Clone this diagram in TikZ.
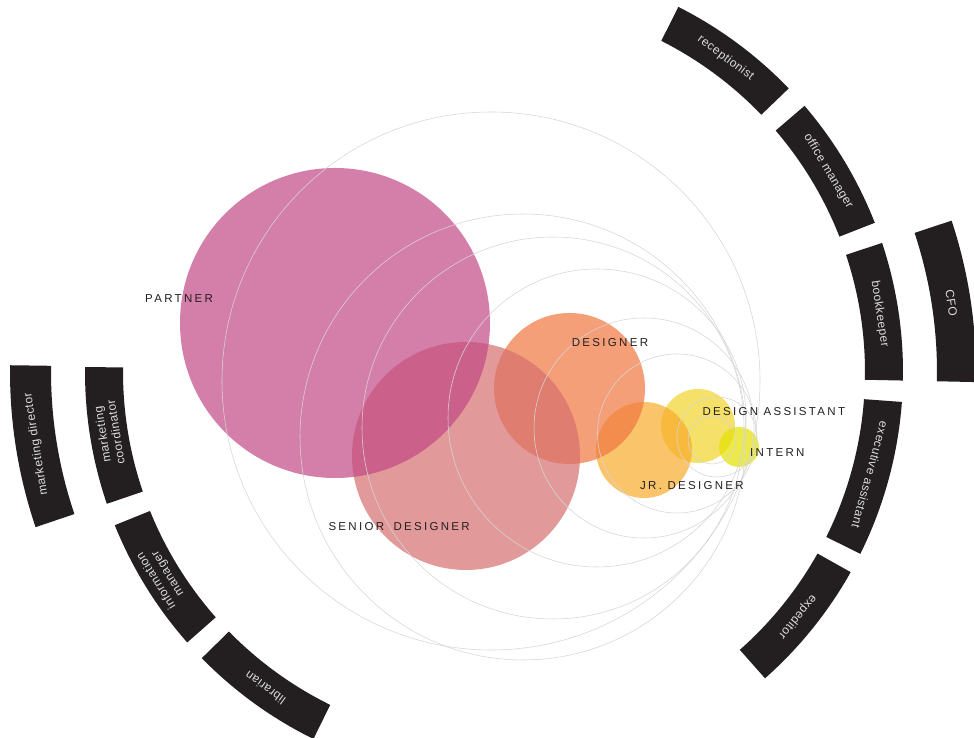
\documentclass[tikz,border=0pt]{standalone}
\usepackage{fontspec}
\setmainfont{Liberation Sans}
\newfontfamily\rolefont[LetterSpace=20]{Liberation Sans}
\newfontfamily\segfont[LetterSpace=4]{Liberation Sans}
\usetikzlibrary{calc}
\definecolor{ink}{HTML}{231F20}
\definecolor{seglight}{HTML}{DCDCDC}
\definecolor{orbitgrey}{HTML}{D6D6D6}
\definecolor{cpartner}{HTML}{C24886}
\definecolor{csenior}{HTML}{D76F6F}
\definecolor{cdesigner}{HTML}{F17741}
\definecolor{cjunior}{HTML}{F9AB2D}
\definecolor{cassist}{HTML}{F2D32A}
\definecolor{cintern}{HTML}{E5E000}
\tikzset{
  role/.style={font=\rolefont\fontsize{11.5}{13}\selectfont, text=ink, anchor=base west, inner sep=0pt},
  seglabel/.style={font=\segfont\fontsize{12}{13.5}\selectfont, text=seglight, align=center, inner sep=0pt},
  segment/.style={fill=ink},
  orbit/.style={draw=orbitgrey, line width=0.55pt},
  bubble/.style={fill opacity=0.7},
}
\newcommand\ringseg[4]{%
  \fill[segment] ($(O)+(#1:#3)$) arc[start angle=#1,end angle=#2,radius=#3]
    -- ($(O)+(#2:#4)$) arc[start angle=#2,end angle=#1,radius=#4] -- cycle;}
\begin{document}
\begin{tikzpicture}[x=1pt,y=1pt]
\useasboundingbox (0,0) rectangle (974,738);
\fill[white] (0,0) rectangle (974,738);
\coordinate (O) at (494,366);

% coloured bubbles (bottom to top)
\fill[bubble, cassist] (698,312) circle[radius=37];
\fill[bubble, cintern] (739,291) circle[radius=20];
\fill[bubble, cjunior] (644,288) circle[radius=48];
\fill[bubble, cdesigner] (569.5,349.5) circle[radius=75.5];
\fill[bubble, csenior] (466,282) circle[radius=114];
\fill[bubble, cpartner] (335,415) circle[radius=155];

% thin orbits
\draw[orbit] (491,357) circle[radius=269];
\draw[orbit] (523,301) circle[radius=223];
\draw[orbit] (553,310) circle[radius=191];
\draw[orbit] (597,320) circle[radius=149];
\draw[orbit] (644,310) circle[radius=110];
\draw[orbit] (677,304.5) circle[radius=79.5];
\draw[orbit] (717,301) circle[radius=40];
\draw[orbit] (712,298) circle[radius=24];

% role labels
\node[role] (partner) at (145,435) {PARTNER};
\node[role] (designer) at (571.7,391.3) {DESIGNER};
\node[role] (assistant) at (702.3,322.3) {DESIGN ASSISTANT};
\node[role] (intern) at (750,281.3) {INTERN};
\node[role] (junior) at (640,248.7) {JR. DESIGNER};
\node[role] (senior) at (328.3,207) {SENIOR\hspace{4pt} DESIGNER};

% right ring segments
\ringseg{43.9}{63.2}{371}{409}
\ringseg{21.4}{40.6}{371}{409}
\ringseg{-1.2}{18.4}{371}{409}
\ringseg{-26.4}{-4.2}{371}{409}
\ringseg{-48.5}{-29.3}{371}{409}
\ringseg{-1.2}{18.3}{443}{482}
% left ring segments
\ringseg{179.3}{198.8}{371}{409}
\ringseg{202}{221.4}{371}{409}
\ringseg{224.4}{243.8}{371}{409}
\ringseg{179.2}{198.7}{443}{484}

% segment labels
\node[seglabel, rotate=-36.45] (recep) at ($(O)+(53.55:390)$) {receptionist};
\node[seglabel, rotate=-59] (office) at ($(O)+(31:390)$) {office manager};
\node[seglabel, rotate=-81.4] (book) at ($(O)+(8.6:390)$) {bookkeeper};
\node[seglabel, rotate=-105.3] (exec) at ($(O)+(-15.3:390)$) {executive assistant};
\node[seglabel, rotate=-128.9] (exped) at ($(O)+(-38.9:390)$) {expeditor};
\node[seglabel, rotate=-81.45] (cfo) at ($(O)+(8.55:462.5)$) {CFO};
\node[seglabel, rotate=99.05] (mcoord) at ($(O)+(189.05:390)$) {marketing\\coordinator};
\node[seglabel, rotate=121.7] (info) at ($(O)+(211.7:390)$) {information\\manager};
\node[seglabel, rotate=144.1] (lib) at ($(O)+(234.1:390)$) {librarian};
\node[seglabel, rotate=98.95] (mdir) at ($(O)+(188.95:463.5)$) {marketing director};
\end{tikzpicture}
\end{document}
